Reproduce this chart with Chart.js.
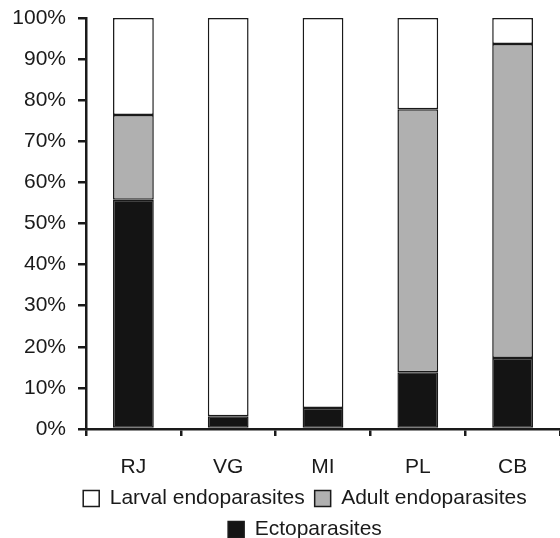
<!DOCTYPE html>
<html>
<head>
<meta charset="utf-8">
<script src="https://cdn.jsdelivr.net/npm/chart.js@4/dist/chart.umd.min.js"></script>
<style>
  body { margin: 0; background: #fff; }
  canvas { display: block; }
</style>
</head>
<body>
<canvas id="chart" width="560" height="538"></canvas>
<script>
// sites and share of each parasite group (%)
const sites = ['RJ', 'VG', 'MI', 'PL', 'CB'];
const ecto = [55.8, 3.1, 5.1, 13.8, 17.3];
const adult = [20.6, 0, 0, 64.0, 76.4];
const larval = [23.6, 96.9, 94.9, 22.2, 6.3];
const yTicks = [0, 10, 20, 30, 40, 50, 60, 70, 80, 90, 100];

const font = { family: 'Liberation Sans, Arial, sans-serif', size: 21 };
const ink = '#1a1a1a';

// legend in the reference sits a bit right of the canvas centre
const shiftLegend = {
    id: 'shiftLegend',
    afterLayout(chart) {
        const lg = chart.legend;
        lg.left = 50;
        lg.right = 560;
    }
};

new Chart(document.getElementById('chart'), {
    type: 'bar',
    data: {
        labels: sites,
        datasets: [
            { label: 'Ectoparasites', data: ecto, backgroundColor: '#141414' },
            { label: 'Adult endoparasites', data: adult, backgroundColor: '#b0b0b0' },
            { label: 'Larval endoparasites', data: larval, backgroundColor: '#ffffff' }
        ].map(d => Object.assign(d, {
            borderColor: ink,
            borderWidth: 1.5,
            borderSkipped: false,
            categoryPercentage: 1,
            barPercentage: 0.43
        }))
    },
    plugins: [shiftLegend],
    options: {
        responsive: false,
        animation: false,
        devicePixelRatio: 1,
        layout: { padding: { top: 18, right: 0, left: 0, bottom: -12 } },
        plugins: {
            tooltip: { enabled: false },
            legend: {
                position: 'bottom',
                reverse: true,
                labels: {
                    color: ink,
                    font: font,
                    boxWidth: 16,
                    boxHeight: 16,
                    padding: 10,
                    generateLabels(chart) {
                        const items = Chart.defaults.plugins.legend.labels.generateLabels(chart);
                        items.forEach(it => { it.lineWidth = 1.5; it.strokeStyle = ink; });
                        return items;
                    }
                }
            }
        },
        scales: {
            x: {
                stacked: true,
                afterFit(scale) { scale.height = 49; },
                border: { display: true, color: ink, width: 2.5 },
                grid: { drawOnChartArea: false, drawTicks: true, tickLength: 7, color: ink, lineWidth: 2.5 },
                ticks: { color: ink, font: font, padding: 19 }
            },
            y: {
                stacked: true,
                min: 0,
                max: 100,
                afterBuildTicks(scale) { scale.ticks = yTicks.map(v => ({ value: v })); },
                afterFit(scale) {
                    scale.width = 86;
                    scale.paddingTop = 0;
                    scale.paddingBottom = 0;
                },
                border: { display: true, color: ink, width: 2.5 },
                grid: { drawOnChartArea: false, drawTicks: true, tickLength: 8, color: ink, lineWidth: 2.5 },
                ticks: { color: ink, font: font, padding: 12, callback: v => v + '%' }
            }
        }
    }
});
</script>
</body>
</html>
